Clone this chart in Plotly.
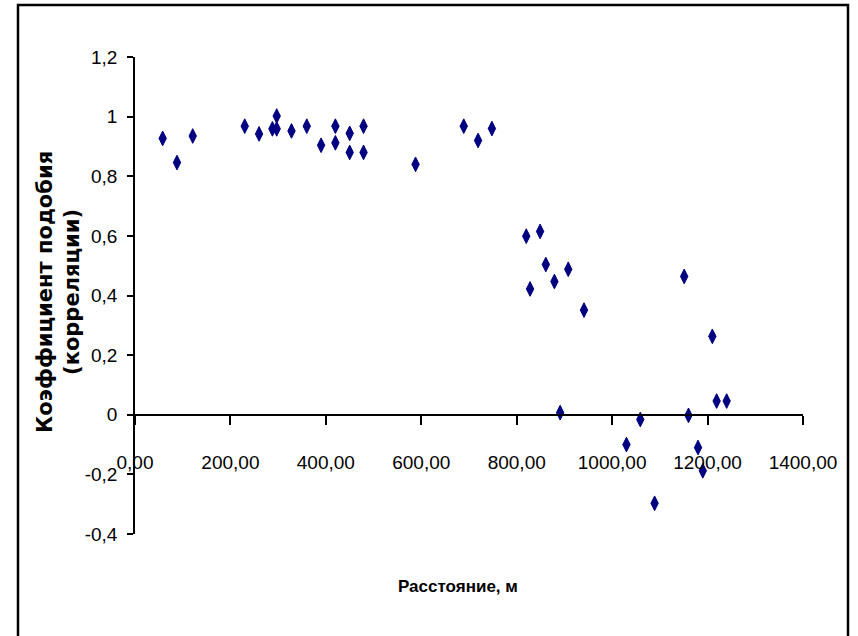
import plotly.graph_objects as go

# Distance, m
distance = [58, 88, 121, 230, 260, 288, 297, 297, 328, 360, 390, 420, 420, 450, 450,
            479, 479, 588, 689, 719, 748, 820, 828, 849, 861, 879, 891, 908, 941,
            1030, 1059, 1089, 1151, 1160, 1180, 1190, 1210, 1219, 1240]
# Similarity (correlation) coefficient
corr = [0.927, 0.846, 0.935, 0.968, 0.942, 0.959, 0.959, 1.002, 0.952, 0.968, 0.904,
        0.968, 0.912, 0.944, 0.880, 0.968, 0.880, 0.840, 0.968, 0.920, 0.960,
        0.599, 0.422, 0.615, 0.504, 0.447, 0.007, 0.488, 0.351,
        -0.100, -0.016, -0.297, 0.464, -0.002, -0.110, -0.188, 0.263, 0.046, 0.046]

x_tickvals = [0, 200, 400, 600, 800, 1000, 1200, 1400]
x_ticktext = ["0,00", "200,00", "400,00", "600,00", "800,00", "1000,00", "1200,00", "1400,00"]
y_tickvals = [-0.4, -0.2, 0, 0.2, 0.4, 0.6, 0.8, 1.0, 1.2]
y_ticktext = ["-0,4", "-0,2", "0", "0,2", "0,4", "0,6", "0,8", "1", "1,2"]

x_title = "Расстояние, м"
y_title = "Коэффициент подобия<br>(корреляции)"

SANS = "Liberation Sans, Arial, sans-serif"

fig = go.Figure()
fig.add_trace(go.Scatter(
    x=distance, y=corr, mode="markers",
    marker=dict(symbol="diamond-tall", size=10.5, color="#000080",
                line=dict(color="#000080", width=1)),
    showlegend=False, cliponaxis=False,
))

fig.update_layout(
    width=858, height=636,
    margin=dict(l=135, r=55, t=57, b=102),
    paper_bgcolor="white", plot_bgcolor="white",
    font=dict(family=SANS, color="black"),
    xaxis=dict(
        range=[0, 1400], tickvals=x_tickvals, ticktext=x_ticktext,
        showgrid=False, zeroline=False,
        showline=True, linecolor="black", linewidth=2,
        ticks="outside", ticklen=9, tickwidth=1.5, tickcolor="black",
        anchor="free", position=0.25,
        ticklabelstandoff=21,
        tickfont=dict(family=SANS, size=19, color="black"),
    ),
    yaxis=dict(
        range=[-0.4, 1.2], tickvals=y_tickvals, ticktext=y_ticktext,
        showgrid=False, zeroline=False,
        showline=True, linecolor="black", linewidth=1.5,
        ticks="outside", ticklen=6, tickwidth=1.5, tickcolor="black",
        ticklabelstandoff=6,
        tickfont=dict(family=SANS, size=19, color="black"),
    ),
    shapes=[dict(type="rect", xref="paper", yref="paper",
                 x0=(18 - 135) / 668, x1=(848 - 135) / 668,
                 y0=(534 - 640) / 477, y1=(534 - 5) / 477,
                 line=dict(color="black", width=2.5), layer="below")],
    annotations=[
        dict(text=x_title, xref="paper", yref="paper",
             x=(458 - 135) / 668, y=(534 - 586) / 477,
             showarrow=False, xanchor="center", yanchor="middle",
             font=dict(family=SANS, size=17, color="black", weight="bold")),
        dict(text=y_title, xref="paper", yref="paper",
             x=(58 - 135) / 668, y=(534 - 292) / 477, textangle=-90,
             showarrow=False, xanchor="center", yanchor="middle",
             font=dict(family="DejaVu Sans, Liberation Sans, sans-serif", size=21,
                       color="black", weight="bold")),
    ],
)

fig.write_html("out.html", config={"displayModeBar": False},
               post_script="document.body.style.margin='0';")
